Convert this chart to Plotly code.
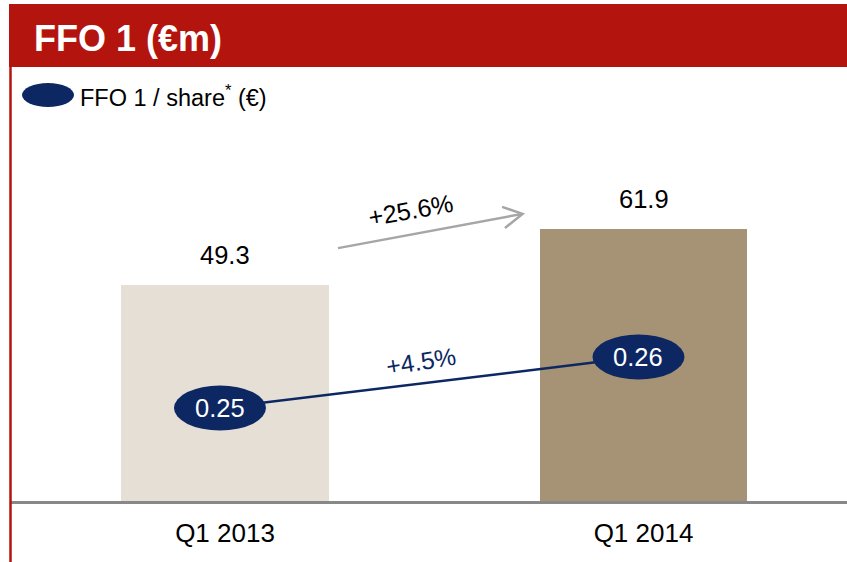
import plotly.graph_objects as go

# ---- data ----
categories = ["Q1 2013", "Q1 2014"]
ffo1_values = [49.3, 61.9]            # €m
ffo1_share = [0.25, 0.26]             # € per share
ffo1_growth_label = "+25.6%"
share_growth_label = "+4.5%"
title_text = "FFO 1 (€m)"
legend_text = "FFO 1 / share<sup>*</sup> (€)"

# ---- styling ----
W, H = 847, 562
RED = "#B4140E"
NAVY = "#0C2762"
BAR_COLORS = ["#E5DFD6", "#A69275"]
GRAY_ARROW = "#A6A6A6"
AXIS_GRAY = "#888888"
FONT = "Arial, Liberation Sans, sans-serif"

def px_x(px):
    return px / W

def px_y(py):
    return 1 - py / H

xpos = list(range(len(categories)))

fig = go.Figure()

fig.add_trace(go.Bar(
    x=xpos, y=ffo1_values, width=0.495,
    marker=dict(color=BAR_COLORS, line=dict(width=0)),
    hoverinfo="skip", showlegend=False,
))

ell_offset = -0.012
fig.add_trace(go.Scatter(
    x=[p + ell_offset for p in xpos], y=ffo1_share, yaxis="y2",
    mode="lines", line=dict(color=NAVY, width=2.5),
    hoverinfo="skip", showlegend=False,
))

shapes = []
annotations = []

# header band and left rule
shapes.append(dict(type="rect", xref="paper", yref="paper",
                   x0=px_x(9), x1=1, y0=px_y(67), y1=px_y(4),
                   fillcolor=RED, line=dict(width=0), layer="below"))
shapes.append(dict(type="line", xref="paper", yref="paper",
                   x0=px_x(10.5), x1=px_x(10.5), y0=0, y1=px_y(66),
                   line=dict(color=RED, width=2.5)))
annotations.append(dict(xref="paper", yref="paper", x=px_x(32), y=px_y(39),
                        xanchor="left", yanchor="middle", showarrow=False,
                        text="<b>" + title_text + "</b>",
                        font=dict(family=FONT, size=36, color="white")))

# legend
shapes.append(dict(type="circle", xref="paper", yref="paper",
                   x0=px_x(22), x1=px_x(74), y0=px_y(107), y1=px_y(83),
                   fillcolor=NAVY, line=dict(width=0)))
annotations.append(dict(xref="paper", yref="paper", x=px_x(78), y=px_y(96),
                        xanchor="left", yanchor="middle", showarrow=False,
                        text=legend_text,
                        font=dict(family=FONT, size=23.5, color="black")))

# bar value labels
for xi, v in zip(xpos, ffo1_values):
    annotations.append(dict(x=xi, y=v, xref="x", yref="y", yanchor="bottom",
                            yshift=14, showarrow=False, text=f"{v:.1f}",
                            font=dict(family=FONT, size=25.5, color="black")))

# ellipses with per-share values
for xi, v in zip(xpos, ffo1_share):
    shapes.append(dict(type="circle", xref="x", yref="y2",
                       xsizemode="pixel", ysizemode="pixel",
                       xanchor=xi + ell_offset, yanchor=v,
                       x0=-46, x1=46, y0=-22.5, y1=22.5,
                       fillcolor=NAVY, line=dict(width=0), layer="above"))
    annotations.append(dict(x=xi + ell_offset, y=v, xref="x", yref="y2",
                            showarrow=False, text=f"{v:.2f}",
                            font=dict(family=FONT, size=25.5, color="white")))

# grey growth arrow (FFO 1)
shapes.append(dict(type="path", xref="x", yref="y",
                   path="M 0.270,57.6 L 0.711,65.4 M 0.662,67.0 L 0.711,65.4 L 0.669,62.2",
                   line=dict(color=GRAY_ARROW, width=2.5)))
annotations.append(dict(x=0.444, y=66.4, xref="x", yref="y", showarrow=False,
                        text=ffo1_growth_label, textangle=-10,
                        font=dict(family=FONT, size=25, color="black")))

# per-share growth label
annotations.append(dict(x=0.468, y=0.2592, xref="x", yref="y2", showarrow=False,
                        text=share_growth_label, textangle=-9,
                        font=dict(family=FONT, size=24.5, color=NAVY)))

px_per_cat = 418.5
x_range = [(10 - 225) / px_per_cat, (847 - 225) / px_per_cat]
px_per_unit = 4.39
y_range = [0, (501 - 120) / px_per_unit]
px_per_share = 5100.0
y2_range = [ffo1_share[0] - (501 - 408) / px_per_share,
            ffo1_share[1] + (357 - 120) / px_per_share]

fig.update_layout(
    width=W, height=H,
    margin=dict(l=0, r=0, t=0, b=0),
    paper_bgcolor="white", plot_bgcolor="white",
    showlegend=False,
    bargap=0,
    xaxis=dict(domain=[10 / W, 1], range=x_range,
               tickvals=xpos, ticktext=categories,
               tickfont=dict(family=FONT, size=26, color="black"),
               showline=True, linecolor=AXIS_GRAY, linewidth=3,
               showgrid=False, zeroline=False, ticks="",
               ticklabelstandoff=7, fixedrange=True),
    yaxis=dict(domain=[1 - 501 / H, 1 - 120 / H], range=y_range,
               showgrid=False, zeroline=False, showticklabels=False,
               showline=False, fixedrange=True),
    yaxis2=dict(domain=[1 - 501 / H, 1 - 120 / H], range=y2_range,
                overlaying="y", showgrid=False, zeroline=False,
                showticklabels=False, showline=False, fixedrange=True),
    shapes=shapes,
    annotations=annotations,
)

fig.write_html(
    "out.html",
    config={"displayModeBar": False},
    post_script="document.body.style.margin='0';document.body.style.overflow='hidden';",
)
